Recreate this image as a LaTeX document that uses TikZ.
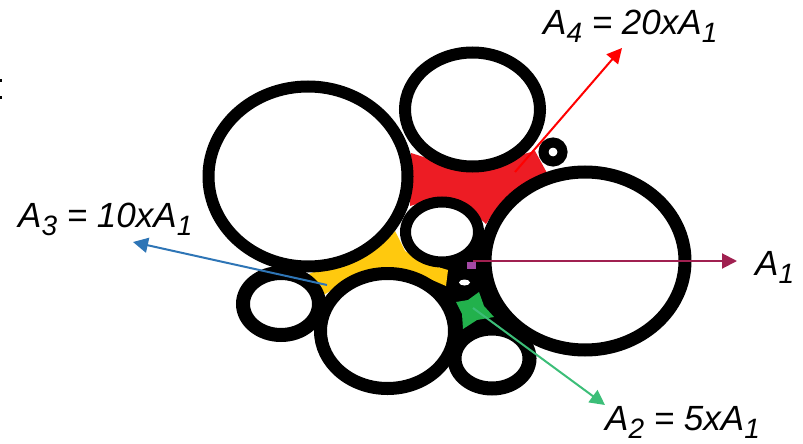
\documentclass[tikz,border=0pt]{standalone}
\usepackage{fontspec}
\setmainfont{Liberation Sans}
\usetikzlibrary{arrows.meta}
\definecolor{redfill}{RGB}{237,28,36}
\definecolor{yellowfill}{RGB}{255,201,14}
\definecolor{greenfill}{RGB}{34,177,76}
\definecolor{purplefill}{RGB}{163,73,164}
\definecolor{redline}{RGB}{255,0,0}
\definecolor{blueline}{RGB}{46,117,182}
\definecolor{greenline}{RGB}{60,190,120}
\definecolor{maroonline}{RGB}{160,32,80}
\newcommand\lblsub[1]{\raisebox{-8pt}{\fontsize{28}{28}\selectfont #1}}
\tikzset{
  lbl/.style={inner sep=0pt, anchor=base west, font=\fontsize{35}{40}\selectfont\itshape},
  arr/.style={line width=2pt, -{Triangle[length=15pt,width=15pt]}},
}
\begin{document}
\begin{tikzpicture}[x=1pt,y=-1pt]
\useasboundingbox (0,0) rectangle (803,444);
% black gap in the middle
\fill[black] (445,262) -- (478,230) -- (495,238) -- (502,300) -- (527,336) -- (470,348) -- (448,332) -- (438,292) -- (430,278) -- cycle;
% coloured gaps
\fill[redfill] (411,153) -- (433,160) -- (463,168) -- (490,165) -- (520,155) -- (535,151) -- (547,173) -- (522,190) -- (502,203) -- (492,215) -- (486,224) -- (466,206) -- (440,200) -- (417,204) -- (410,206) -- cycle;
\fill[yellowfill] (309,274) -- (343,260) -- (370,250) -- (387,239) -- (395,231) -- (405,251) -- (428,264) -- (448,270) -- (446,286) -- (430,279) -- (400,270) -- (370,271) -- (340,285) -- (322,296) -- cycle;
\fill[greenfill] (456,302) -- (468,300) -- (479,292) -- (484,306) -- (494,317) -- (477,320) -- (463,329) -- (462,314) -- cycle;
% circles: interiors first, then rings
\foreach \cx/\cy/\rx/\ry/\lw in {308/176.5/99.5/90/12, 472.5/109.5/67.5/57/12, 553/152/9.5/9.5/10, 585/261/100/89/13, 442/232/36.5/30/11, 387.5/331/67/57.5/13, 281/304/38/31/14, 492/358.5/37.5/30/14}
  \fill[white] (\cx,\cy) ellipse [x radius=\rx pt, y radius=\ry pt];
\foreach \cx/\cy/\rx/\ry/\lw in {308/176.5/99.5/90/12, 472.5/109.5/67.5/57/12, 553/152/9.5/9.5/10, 585/261/100/89/13, 442/232/36.5/30/11, 387.5/331/67/57.5/13, 281/304/38/31/14, 492/358.5/37.5/30/14}
  \draw[line width=\lw pt] (\cx,\cy) ellipse [x radius=\rx pt, y radius=\ry pt];
% tiny hole in the black middle
\fill[white] (464.5,282.5) ellipse [x radius=5.5pt, y radius=3pt];
\fill[purplefill] (467,262) rectangle (476,269);
\fill[black] (0,79) rectangle (2,82);
\fill[black] (0,96) rectangle (2,99);
% labels
\node[lbl] (la4) at (543,35) {A\lblsub{4} = 20xA\lblsub{1}};
\node[lbl] (la1) at (755,275) {A\lblsub{1}};
\node[lbl] (la3) at (18,227) {A\lblsub{3} = 10xA\lblsub{1}};
\node[lbl] (la2) at (605,430) {A\lblsub{2} = 5xA\lblsub{1}};
% arrow ends
\coordinate (pred) at (515,172);
\coordinate (tred) at (622,48);
\coordinate (pyel) at (327,285);
\coordinate (tyel) at (133,242);
\coordinate (pgrn) at (473,308);
\coordinate (tgrn) at (605,405);
\coordinate (ppur) at (473,261);
\coordinate (tpur) at (737,261);
\draw[arr, redline] (pred) -- (tred);
\draw[arr, blueline] (pyel) -- (tyel);
\draw[arr, greenline] (pgrn) -- (tgrn);
\draw[arr, maroonline] (ppur) -- (tpur);
\end{tikzpicture}
\end{document}
